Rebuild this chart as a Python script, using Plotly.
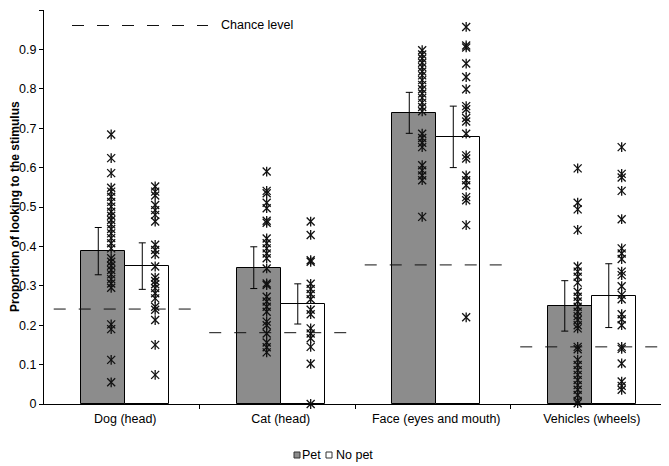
import numpy as np
import plotly.graph_objects as go

# ---------------- data ----------------
categories = ["Dog (head)", "Cat (head)", "Face (eyes and mouth)", "Vehicles (wheels)"]
pet_mean = [0.388, 0.346, 0.739, 0.249]
pet_err = [0.060, 0.053, 0.052, 0.064]
nopet_mean = [0.350, 0.254, 0.678, 0.275]
nopet_err = [0.059, 0.051, 0.078, 0.081]
chance_level = [0.241, 0.181, 0.353, 0.145]

pet_dog = [0.684, 0.624, 0.586, 0.549, 0.539, 0.526, 0.513, 0.501, 0.488, 0.478,
           0.467, 0.456, 0.444, 0.433, 0.421, 0.408, 0.395, 0.370, 0.361, 0.351,
           0.340, 0.329, 0.317, 0.306, 0.295, 0.202, 0.190, 0.112, 0.055]
nopet_dog = [0.552, 0.539, 0.529, 0.505, 0.492, 0.480, 0.463, 0.404, 0.391, 0.380,
             0.349, 0.321, 0.312, 0.304, 0.294, 0.281, 0.268, 0.247, 0.239, 0.213,
             0.150, 0.074]
pet_cat = [0.590, 0.541, 0.535, 0.511, 0.497, 0.465, 0.460, 0.420, 0.408, 0.395,
           0.382, 0.370, 0.344, 0.306, 0.302, 0.272, 0.260, 0.247, 0.234, 0.209,
           0.200, 0.179, 0.156, 0.144, 0.131]
nopet_cat = [0.463, 0.429, 0.365, 0.361, 0.305, 0.292, 0.279, 0.266, 0.239, 0.228,
             0.192, 0.179, 0.167, 0.145, 0.102, 0.0]
pet_face = [0.898, 0.887, 0.877, 0.866, 0.855, 0.844, 0.834, 0.822, 0.810, 0.799,
            0.788, 0.777, 0.765, 0.754, 0.743, 0.686, 0.675, 0.663, 0.652, 0.606,
            0.593, 0.580, 0.568, 0.475]
nopet_face = [0.957, 0.910, 0.905, 0.864, 0.830, 0.799, 0.756, 0.748, 0.726, 0.717,
              0.686, 0.631, 0.623, 0.580, 0.568, 0.555, 0.525, 0.517, 0.454, 0.220]
pet_vehicles = [0.598, 0.511, 0.494, 0.442, 0.349, 0.336, 0.323, 0.308, 0.285, 0.272,
                0.260, 0.247, 0.234, 0.223, 0.213, 0.200, 0.192, 0.145, 0.139, 0.112,
                0.099, 0.086, 0.074, 0.061, 0.048, 0.036, 0.023, 0.008, 0.002]
nopet_vehicles = [0.652, 0.584, 0.575, 0.541, 0.469, 0.395, 0.382, 0.368, 0.336, 0.327,
                  0.299, 0.277, 0.266, 0.228, 0.215, 0.200, 0.145, 0.140, 0.103, 0.057,
                  0.046, 0.036]

pet_points = [pet_dog, pet_cat, pet_face, pet_vehicles]
nopet_points = [nopet_dog, nopet_cat, nopet_face, nopet_vehicles]

# ---------------- styling / geometry constants ----------------
FONT = "Liberation Sans, Arial, Helvetica, sans-serif"
BW = 0.283          # bar width (category units)
ERR_SHIFT = 0.032   # error bars sit slightly left of bar centre
STAR_SHIFT = 0.051  # individual points sit slightly right of bar centre
PET_COLOR = "#8c8c8c"
DASH = "12px,13px"
X0 = -0.5225        # axis left edge
idx = np.arange(len(categories))

fig = go.Figure()

# bars
fig.add_trace(go.Bar(x=idx, y=pet_mean, width=BW, offset=-BW, name="Pet",
                     marker=dict(color=PET_COLOR, line=dict(color="black", width=1)),
                     showlegend=False))
fig.add_trace(go.Bar(x=idx, y=nopet_mean, width=BW, offset=0, name="No pet",
                     marker=dict(color="white", line=dict(color="black", width=1)),
                     showlegend=False))

# error bars
for means, errs, sign in [(pet_mean, pet_err, -1), (nopet_mean, nopet_err, 1)]:
    fig.add_trace(go.Scatter(
        x=idx + sign * BW / 2 - ERR_SHIFT, y=means, mode="markers",
        marker=dict(size=1, color="rgba(0,0,0,0)"),
        error_y=dict(type="data", array=errs, color="black", thickness=1, width=3.5),
        showlegend=False, hoverinfo="skip"))

# chance level lines
cx, cy = [], []
for i, c in enumerate(chance_level):
    cx += [i - 0.46, i + 0.44, None]
    cy += [c, c, None]
fig.add_trace(go.Scatter(x=cx, y=cy, mode="lines",
                         line=dict(color="#111111", width=1, dash=DASH),
                         showlegend=False, hoverinfo="skip"))

# individual points (6-armed asterisks: x + vertical line)
for pts_list, sign in [(pet_points, -1), (nopet_points, 1)]:
    xs, ys = [], []
    for i, pts in enumerate(pts_list):
        xs += [i + sign * BW / 2 + STAR_SHIFT] * len(pts)
        ys += list(pts)
    for sym, size in [("x-thin-open", 8), ("line-ns-open", 7)]:
        fig.add_trace(go.Scatter(
            x=xs, y=ys, mode="markers", cliponaxis=False,
            marker=dict(symbol=sym, size=size, color="#111111",
                        line=dict(color="#111111", width=1.3)),
            showlegend=False, hoverinfo="skip"))

# ---------------- layout ----------------
# the page body adds an 8px margin, so the figure is 8px smaller and all
# reference pixel positions are shifted by 8px
OFF = 8
W, H = 669 - OFF, 466 - OFF
L, T = 44 - OFF, 10 - OFF
R = W - (666 - OFF)
B = H - (404 - OFF)
pw, ph = W - L - R, H - T - B


def px(xpix):
    return (xpix - OFF - L) / pw


def py(ypix):
    return (H - B - (ypix - OFF)) / ph


shapes = [
    # "Chance level" legend line
    dict(type="line", xref="paper", yref="paper", x0=px(72), x1=px(208),
         y0=py(25.5), y1=py(25.5), line=dict(color="#111111", width=1, dash=DASH)),
    # bottom legend squares
    dict(type="rect", xref="paper", yref="paper", x0=px(294), x1=px(300),
         y0=py(458), y1=py(452), fillcolor=PET_COLOR, line=dict(color="#333333", width=1)),
    dict(type="rect", xref="paper", yref="paper", x0=px(326), x1=px(332),
         y0=py(458), y1=py(452), fillcolor="white", line=dict(color="#333333", width=1)),
]

annotations = [
    dict(text="Chance level", xref="paper", yref="paper", x=px(219), y=py(25),
         xanchor="left", yanchor="middle", showarrow=False,
         font=dict(family=FONT, size=12.5, color="black")),
    dict(text="Pet", xref="paper", yref="paper", x=px(300), y=py(455),
         xanchor="left", yanchor="middle", showarrow=False,
         font=dict(family=FONT, size=12.5, color="black")),
    dict(text="No pet", xref="paper", yref="paper", x=px(334), y=py(455),
         xanchor="left", yanchor="middle", showarrow=False,
         font=dict(family=FONT, size=12.5, color="black")),
    dict(text="<b>Proportion of looking to the stimulus</b>", xref="paper", yref="paper",
         x=px(15), y=0.5, xanchor="center", yanchor="middle", textangle=-90,
         showarrow=False, font=dict(family=FONT, size=12, color="black")),
]

fig.update_layout(
    width=W, height=H,
    margin=dict(l=L, r=R, t=T, b=B),
    paper_bgcolor="white", plot_bgcolor="white",
    barmode="overlay", bargap=0,
    font=dict(family=FONT, size=12.5, color="black"),
    shapes=shapes, annotations=annotations,
    showlegend=False,
)
fig.update_xaxes(
    type="linear", range=[X0, X0 + 4], tickmode="array",
    tickvals=idx, ticktext=categories,
    ticks="outside", ticklen=3, tickcolor="rgba(0,0,0,0)",
    minor=dict(tickmode="array", tickvals=[X0 + k for k in range(1, 5)],
               ticks="outside", ticklen=4, tickcolor="black", tickwidth=1),
    showline=True, linecolor="black", linewidth=1,
    showgrid=False, zeroline=False, automargin=False,
    tickfont=dict(family=FONT, size=12.5, color="black"),
)
fig.update_yaxes(
    range=[0, 1], tickmode="linear", tick0=0, dtick=0.1,
    ticks="outside", ticklen=4, tickcolor="black",
    showline=True, linecolor="black", linewidth=1,
    showgrid=False, zeroline=False, automargin=False,
    tickfont=dict(family=FONT, size=12.5, color="black"),
)

fig.write_html("out.html")
